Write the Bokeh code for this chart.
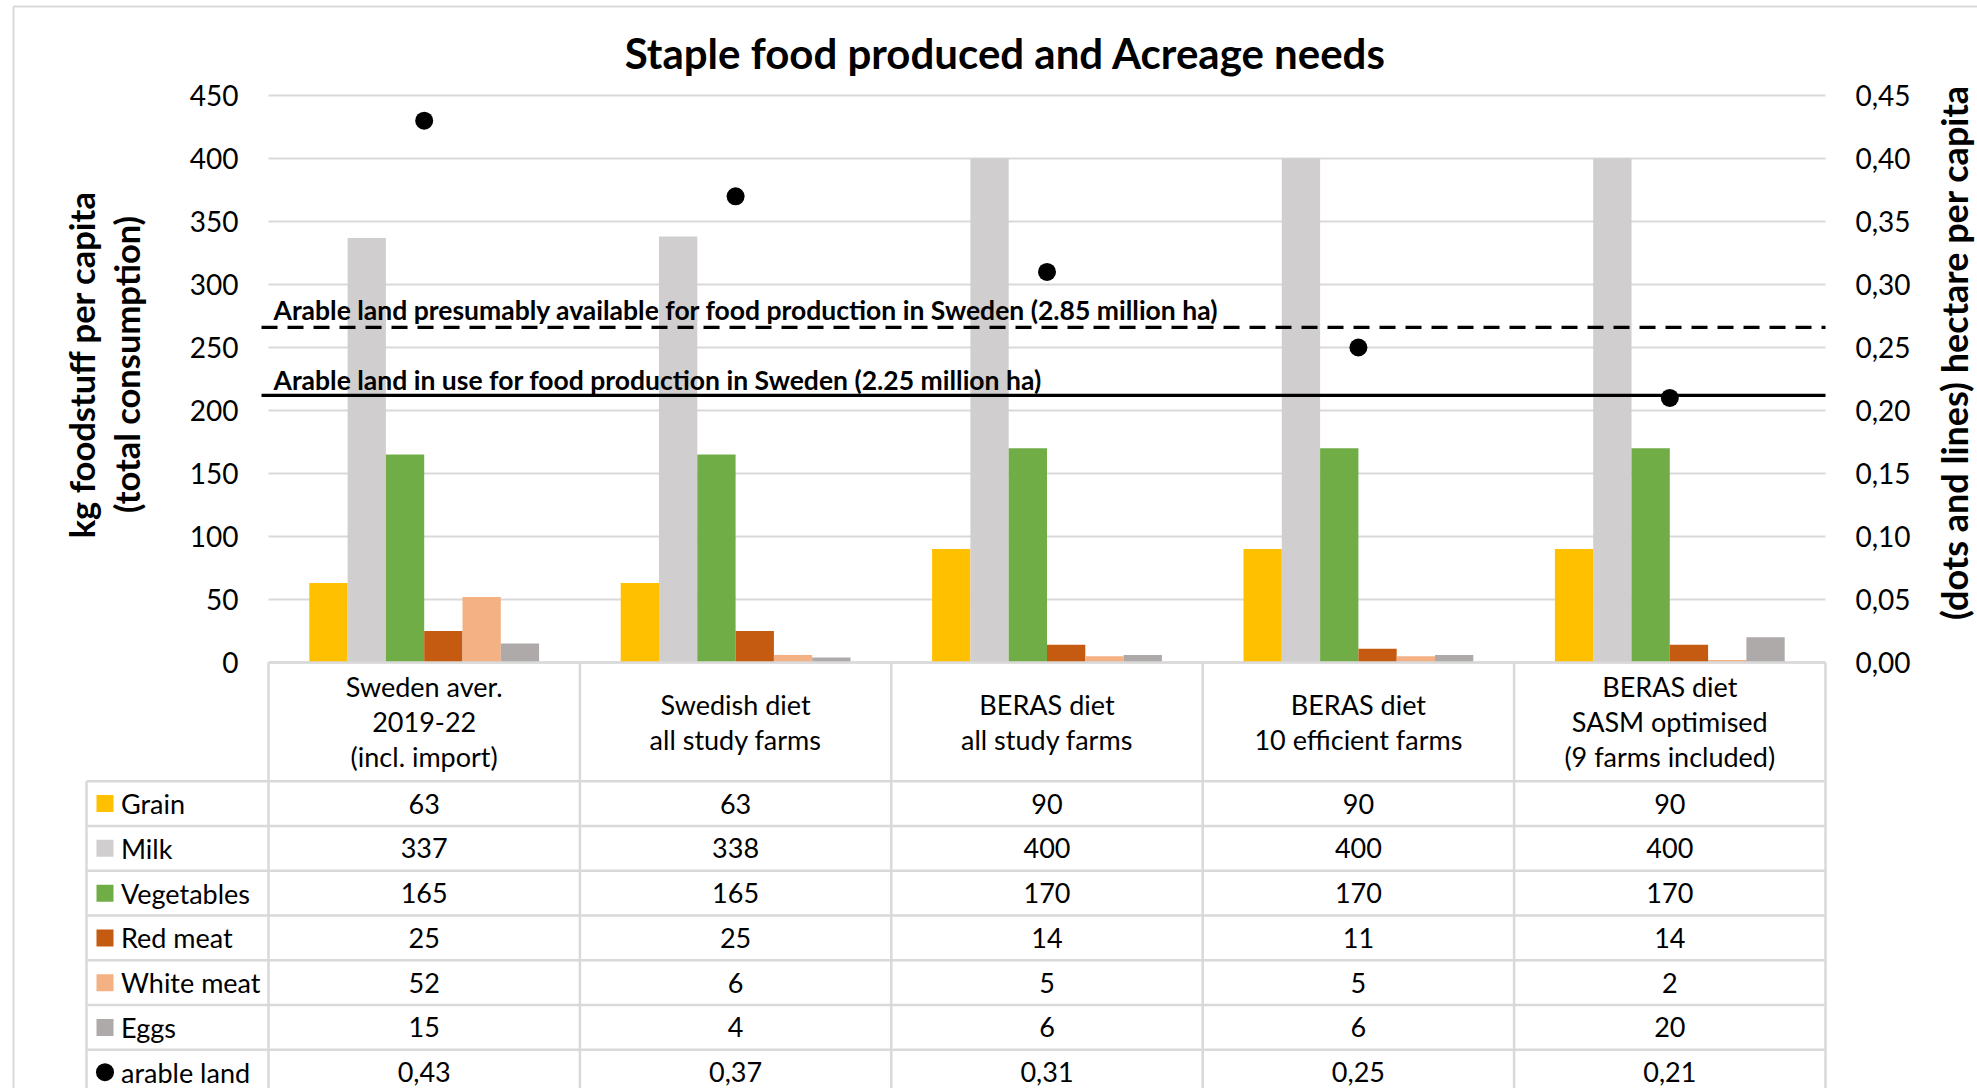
import numpy as np
from bokeh.plotting import figure
from bokeh.models import Range1d
from bokeh.embed import file_html
from bokeh.resources import INLINE
from bokeh.core.properties import value

# ---------------- data ----------------
scenarios = [
    "Sweden aver.\n2019-22\n(incl. import)",
    "Swedish diet\nall study farms",
    "BERAS diet\nall study farms",
    "BERAS diet\n10 efficient farms",
    "BERAS diet\nSASM optimised\n(9 farms included)",
]
foods = ["Grain", "Milk", "Vegetables", "Red meat", "White meat", "Eggs"]
grain = [63, 63, 90, 90, 90]
milk = [337, 338, 400, 400, 400]
vegetables = [165, 165, 170, 170, 170]
red_meat = [25, 25, 14, 11, 14]
white_meat = [52, 6, 5, 5, 2]
eggs = [15, 4, 6, 6, 20]
arable_land = [0.43, 0.37, 0.31, 0.25, 0.21]
land_available = 0.266   # 2.85 million ha
land_in_use = 0.212      # 2.25 million ha
kg_ticks = [0, 50, 100, 150, 200, 250, 300, 350, 400, 450]
ha_ticks = [0.00, 0.05, 0.10, 0.15, 0.20, 0.25, 0.30, 0.35, 0.40, 0.45]

food_values = [grain, milk, vegetables, red_meat, white_meat, eggs]
food_colors = ["#FFC000", "#D0CECE", "#70AD47", "#C55A11", "#F4B183", "#AEAAAA"]


def comma(v):
    return f"{v:.2f}".replace(".", ",")


# ---------------- layout ----------------
W, H = 1977, 1088
PLOT_L, PLOT_R, PLOT_T, PLOT_B = 268, 1825, 95, 662
KG_MAX = 450
FONT = value("Lato")
GRID = "#d9d9d9"

n = len(scenarios)
cw = (PLOT_R - PLOT_L) / n               # pixels per category
kpp = KG_MAX / (PLOT_B - PLOT_T)         # kg per pixel

p = figure(
    width=W, height=H,
    x_range=Range1d(-PLOT_L / cw, (W - PLOT_L) / cw),
    y_range=Range1d(-(H - PLOT_B) * kpp, PLOT_B * kpp),
    x_axis_type=None, y_axis_type=None,
    toolbar_location=None, output_backend="svg",
    min_border=0, outline_line_color=None,
    background_fill_color="white", border_fill_color="white",
)
p.extra_y_ranges = {
    "ha": Range1d(p.y_range.start / 1000, p.y_range.end / 1000),
    "px": Range1d(H, 0),
}
p.extra_x_ranges = {"px": Range1d(0, W)}

centers = [i + 0.5 for i in range(n)]

# outer chart border
p.segment(x0=[13, 13], y0=[6, 6], x1=[13, W], y1=[H, 6],
          x_range_name="px", y_range_name="px", line_color=GRID, line_width=2)

# horizontal gridlines
p.segment(x0=0, x1=n, y0=kg_ticks, y1=kg_ticks, line_color=GRID, line_width=2)

# grouped bars
bw = 38.3 / cw
for k, (vals, col) in enumerate(zip(food_values, food_colors)):
    xs = [c + (k - 2.5) * bw for c in centers]
    p.vbar(x=xs, top=vals, bottom=0, width=bw, fill_color=col, line_color=None)

# reference lines for available arable land
x_start = -7 / cw
p.line(x=[x_start, n], y=[land_available, land_available], y_range_name="ha",
       line_color="black", line_width=3.2, line_dash="16 10")
p.line(x=[x_start, n], y=[land_in_use, land_in_use], y_range_name="ha",
       line_color="black", line_width=3.2)

p.text(x=[273, 273], y=[309.5, 379],
       text=["Arable land presumably available for food production in Sweden (2.85 million ha)",
             "Arable land in use for food production in Sweden (2.25 million ha)"],
       x_range_name="px", y_range_name="px", text_font=FONT, text_font_style="bold",
       text_font_size="26.5px", text_color="black", text_align="left",
       text_baseline="middle")

# arable land per capita dots
p.scatter(x=centers, y=arable_land, y_range_name="ha", size=18,
          marker="circle", fill_color="black", line_color=None)

# title
p.text(x=[1005], y=[52], text=["Staple food produced and Acreage needs"],
       x_range_name="px", y_range_name="px", text_font=FONT, text_font_style="bold",
       text_font_size="42px", text_color="black", text_align="center",
       text_baseline="middle")

# axis tick labels
p.text(x=[238] * len(kg_ticks), y=kg_ticks, text=[str(t) for t in kg_ticks],
       x_range_name="px", text_font=FONT, text_font_size="28px", text_color="black",
       text_align="right", text_baseline="middle")
p.text(x=[1855] * len(ha_ticks), y=ha_ticks, text=[comma(t) for t in ha_ticks],
       x_range_name="px", y_range_name="ha", text_font=FONT, text_font_size="28px",
       text_color="black", text_align="left", text_baseline="middle")

# axis titles
p.text(x=[81, 126], y=[364, 364],
       text=["kg foodstuff per capita", "(total consumption)"],
       x_range_name="px", y_range_name="px", angle=np.pi / 2,
       text_font=FONT, text_font_style="bold", text_font_size="34.5px",
       text_color="black", text_align="center", text_baseline="middle")
p.text(x=[1953], y=[352], text=["(dots and lines) hectare per capita"],
       x_range_name="px", y_range_name="px", angle=np.pi / 2,
       text_font=FONT, text_font_style="bold", text_font_size="36px",
       text_color="black", text_align="center", text_baseline="middle")

# ---------------- data table ----------------
HEAD_B = 780.7
ROW_H = 44.77
LEG_L = 86
row_labels = foods + ["arable land"]
n_rows = len(row_labels)
row_mid = [HEAD_B + (r + 0.5) * ROW_H for r in range(n_rows)]
bounds_px = [PLOT_L + i * cw for i in range(n + 1)]
centers_px = [PLOT_L + (i + 0.5) * cw for i in range(n)]

# header top line (category axis)
p.segment(x0=[PLOT_L], y0=[PLOT_B], x1=[PLOT_R], y1=[PLOT_B],
          x_range_name="px", y_range_name="px", line_color=GRID, line_width=2.5)
# column separators
p.segment(x0=bounds_px, y0=[PLOT_B] * (n + 1), x1=bounds_px, y1=[H + 10] * (n + 1),
          x_range_name="px", y_range_name="px", line_color=GRID, line_width=2.5)
p.segment(x0=[LEG_L], y0=[HEAD_B], x1=[LEG_L], y1=[H + 10],
          x_range_name="px", y_range_name="px", line_color=GRID, line_width=2.5)
# row separators
row_lines = [HEAD_B + r * ROW_H for r in range(n_rows + 1)]
p.segment(x0=[LEG_L] * len(row_lines), y0=row_lines, x1=[PLOT_R] * len(row_lines), y1=row_lines,
          x_range_name="px", y_range_name="px", line_color=GRID, line_width=2.5)

# category headers
p.text(x=centers_px, y=[(PLOT_B + HEAD_B) / 2] * n, text=scenarios,
       x_range_name="px", y_range_name="px", text_font=FONT, text_font_size="27px",
       text_color="black", text_align="center", text_baseline="middle",
       text_line_height=1.065)

# legend keys and row labels
p.scatter(x=[104.5] * len(foods), y=row_mid[:len(foods)], marker="square", size=17,
          fill_color=food_colors, line_color=None, x_range_name="px", y_range_name="px")
p.scatter(x=[104.5], y=[row_mid[-1]], marker="circle", size=18,
          fill_color="black", line_color=None, x_range_name="px", y_range_name="px")
p.text(x=[120.5] * n_rows, y=row_mid, text=row_labels,
       x_range_name="px", y_range_name="px", text_font=FONT, text_font_size="27px",
       text_color="black", text_align="left", text_baseline="middle")

# cell values
cell_x, cell_y, cell_t = [], [], []
for r, vals in enumerate(food_values):
    for i, v in enumerate(vals):
        cell_x.append(centers_px[i]); cell_y.append(row_mid[r]); cell_t.append(str(v))
for i, v in enumerate(arable_land):
    cell_x.append(centers_px[i]); cell_y.append(row_mid[-1]); cell_t.append(comma(v))
p.text(x=cell_x, y=cell_y, text=cell_t, x_range_name="px", y_range_name="px",
       text_font=FONT, text_font_size="27px", text_color="black",
       text_align="center", text_baseline="middle")

open("out.html", "w").write(file_html(p, INLINE))
